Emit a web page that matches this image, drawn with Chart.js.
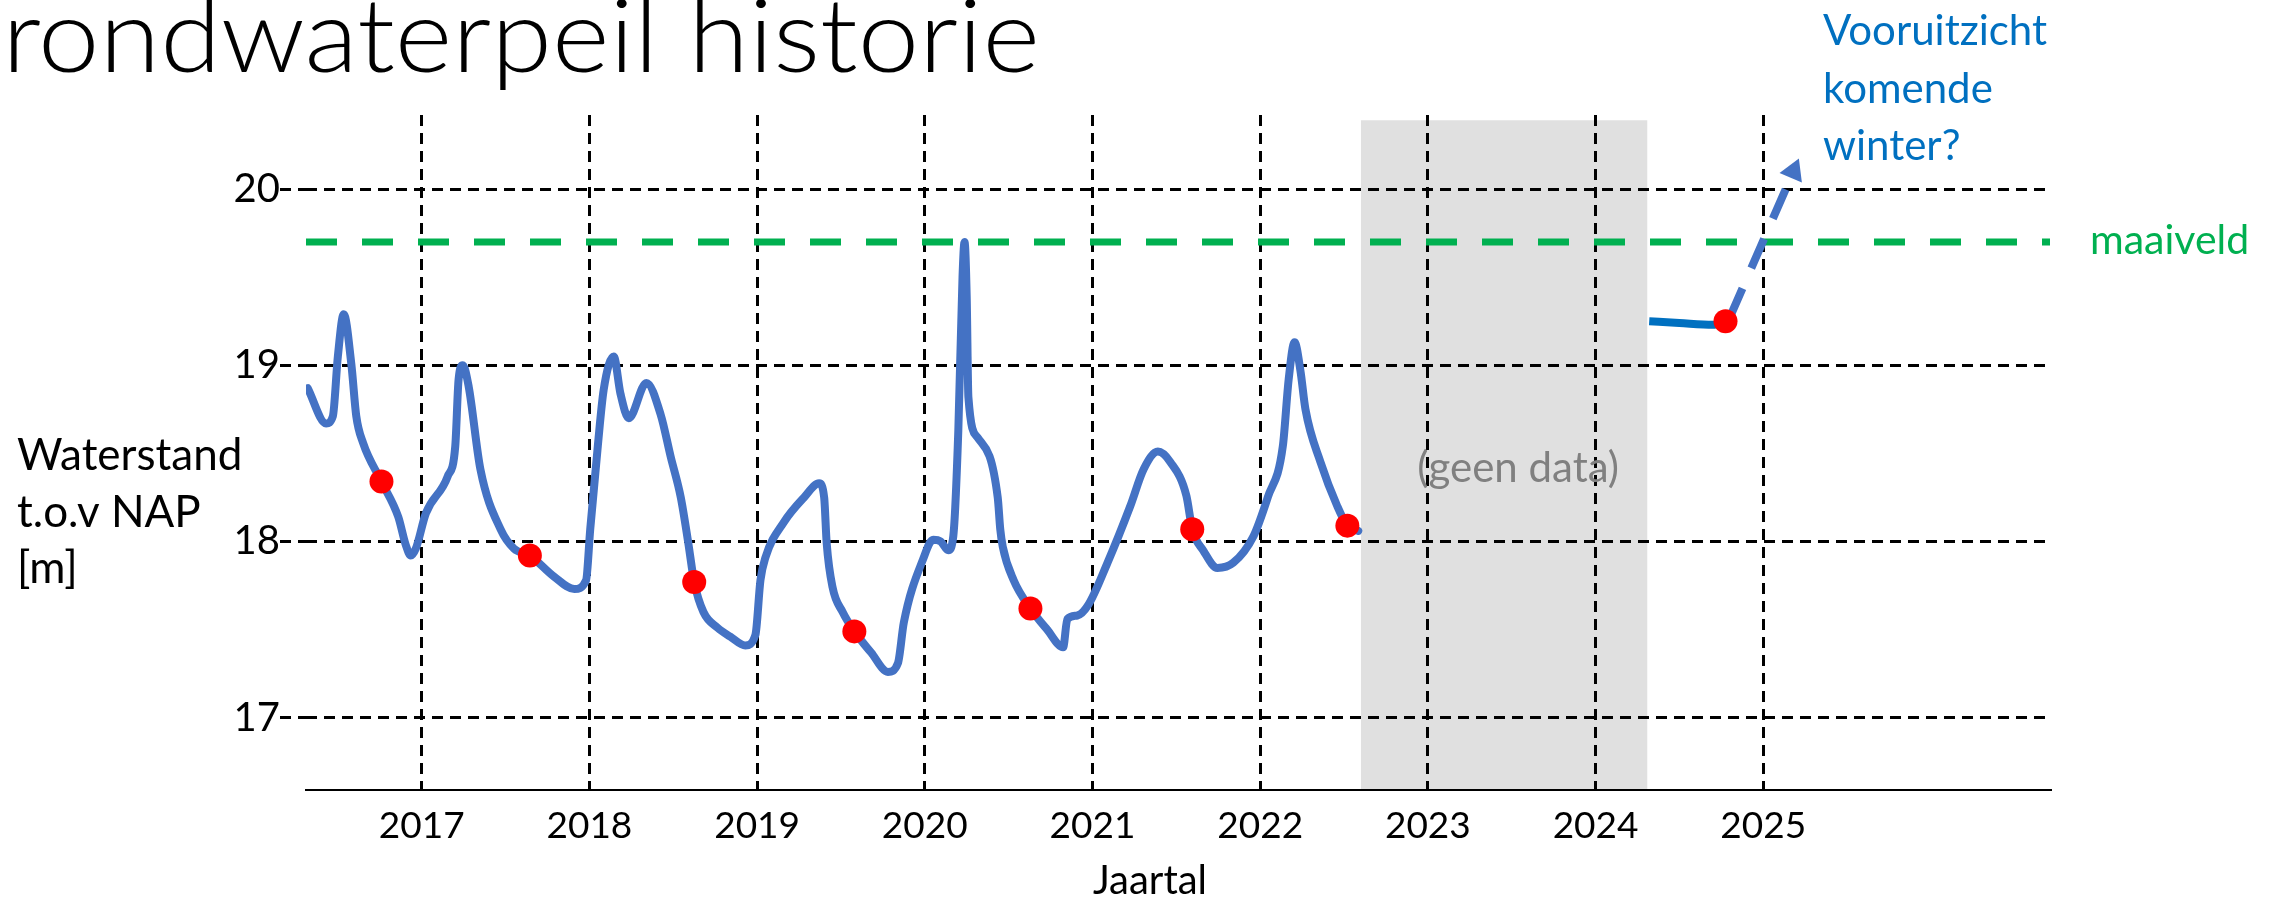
<!DOCTYPE html>
<html>
<head>
<meta charset="utf-8">
<title>Grondwaterpeil historie</title>
<script src="https://cdn.jsdelivr.net/npm/chart.js@4.4.1/dist/chart.umd.min.js"></script>
<style>
  html, body { margin: 0; padding: 0; background: #fff; }
  #wrap { position: relative; width: 2269px; height: 901px; }
</style>
</head>
<body>
<div id="wrap"><canvas id="peilChart"></canvas></div>
<script>
// Grondwaterstand (jaar, m t.o.v. NAP)
const LEVEL_YEARS = [
    2016.32, 2016.43, 2016.47, 2016.50, 2016.535, 2016.58, 2016.61, 2016.65, 2016.76, 2016.86,
    2016.905, 2016.935, 2016.965, 2017.025, 2017.155, 2017.20, 2017.22, 2017.245, 2017.28, 2017.35,
    2017.47, 2017.55, 2017.645, 2017.79, 2017.91, 2017.98, 2018.005, 2018.05, 2018.085, 2018.145,
    2018.185, 2018.235, 2018.34, 2018.425, 2018.485, 2018.545, 2018.59, 2018.625, 2018.68, 2018.765,
    2018.84, 2018.93, 2018.99, 2019.02, 2019.05, 2019.16, 2019.28, 2019.37, 2019.40, 2019.415,
    2019.45, 2019.51, 2019.58, 2019.68, 2019.78, 2019.84, 2019.875, 2019.99, 2020.05, 2020.095,
    2020.14, 2020.17, 2020.20, 2020.225, 2020.237, 2020.25, 2020.26, 2020.315, 2020.435, 2020.45,
    2020.465, 2020.53, 2020.63, 2020.73, 2020.825, 2020.85, 2020.91, 2020.975, 2021.09, 2021.225,
    2021.305, 2021.39, 2021.465, 2021.56, 2021.595, 2021.66, 2021.745, 2021.84, 2021.96, 2022.045,
    2022.135, 2022.17, 2022.205, 2022.24, 2022.27, 2022.36, 2022.46, 2022.52, 2022.585
];
const LEVEL_VALUES = [
    18.87, 18.67, 18.71, 19.05, 19.29, 19.01, 18.71, 18.56, 18.34, 18.14,
    17.98, 17.92, 17.96, 18.16, 18.37, 18.54, 18.92, 19.00, 18.88, 18.41,
    18.07, 17.96, 17.92, 17.80, 17.73, 17.78, 18.07, 18.54, 18.86, 19.05,
    18.84, 18.70, 18.90, 18.72, 18.48, 18.25, 17.99, 17.77, 17.60, 17.51,
    17.46, 17.41, 17.47, 17.78, 17.91, 18.11, 18.25, 18.33, 18.25, 17.99,
    17.74, 17.60, 17.49, 17.37, 17.26, 17.31, 17.54, 17.90, 18.01, 18.00,
    17.95, 18.03, 18.63, 19.50, 19.70, 19.39, 18.82, 18.59, 18.25, 18.07,
    17.97, 17.78, 17.62, 17.50, 17.40, 17.56, 17.58, 17.64, 17.88, 18.20,
    18.41, 18.51, 18.45, 18.26, 18.07, 17.95, 17.85, 17.88, 18.03, 18.25,
    18.54, 18.92, 19.13, 18.97, 18.75, 18.45, 18.20, 18.09, 18.06
];

// Rode meetpunten
const DOT_YEARS = [2016.76, 2017.645, 2018.625, 2019.58, 2020.63, 2021.595, 2022.52, 2024.775];
const DOT_VALUES = [18.34, 17.92, 17.77, 17.49, 17.62, 18.07, 18.09, 19.25];

// Recente meting en vooruitzicht komende winter
const FORECAST_YEARS = [2024.32, 2024.50, 2024.70, 2024.775];
const FORECAST_VALUES = [19.25, 19.24, 19.23, 19.25];
const ARROW_YEARS = [2024.80, 2025.18];
const ARROW_VALUES = [19.27, 20.10];

// Maaiveld en periode zonder data
const MAAIVELD = 19.7;
const GAP_YEARS = [2022.60, 2024.31];
const GAP_TOP = 20.39;

// Assen
const YEAR_TICKS = [2017, 2018, 2019, 2020, 2021, 2022, 2023, 2024, 2025];
const LEVEL_TICKS = [17, 18, 19, 20];
const X_MIN = 2016.31, X_MAX = 2026.71;
const Y_MIN = 16.59, Y_MAX = 20.42;

const toPoints = (xs, ys) => xs.map((x, i) => ({ x: x, y: ys[i] }));

// Teksten van de dia die niet bij een as horen
const slideText = {
    id: 'slideText',
    afterDraw(chart) {
        const { ctx, chartArea, scales: { x, y } } = chart;
        ctx.save();
        ctx.textBaseline = 'alphabetic';
        ctx.textAlign = 'left';

        // titel, de "G" valt links buiten beeld (iets breder getrokken, Calibri Light is smaller)
        ctx.save();
        ctx.font = '300 102px Lato';
        ctx.fillStyle = '#000';
        ctx.scale(1.08, 1);
        const gWidth = ctx.measureText('G').width;
        ctx.fillText('Grondwaterpeil historie', 3 - gWidth, 72);
        ctx.restore();

        // y-as label
        ctx.font = '44px Lato';
        ctx.fillStyle = '#000';
        ['Waterstand', 't.o.v NAP', '[m]'].forEach((line, i) => {
            ctx.fillText(line, 17, 470 + i * 56.5);
        });

        // x-as titel
        ctx.font = '40px Lato';
        ctx.textAlign = 'center';
        ctx.fillText('Jaartal', (chartArea.left + chartArea.right) / 2 - 28, 894);
        ctx.textAlign = 'left';

        // vooruitzicht
        ctx.font = '42px Lato';
        ctx.fillStyle = '#0070C0';
        ['Vooruitzicht', 'komende', 'winter?'].forEach((line, i) => {
            ctx.fillText(line, 1823, 45 + i * 57.5);
        });

        // maaiveld
        ctx.font = '41px Lato';
        ctx.fillStyle = '#00B050';
        ctx.fillText('maaiveld', chartArea.right + 40, y.getPixelForValue(MAAIVELD) + 12);

        // geen data
        ctx.font = '42px Lato';
        ctx.fillStyle = '#808080';
        ctx.textAlign = 'center';
        ctx.fillText('(geen data)', x.getPixelForValue((GAP_YEARS[0] + GAP_YEARS[1]) / 2) + 14, y.getPixelForValue(18.34));

        ctx.restore();
    }
};

function renderChart() {
    const ctx = document.getElementById('peilChart').getContext('2d');

    new Chart(ctx, {
        type: 'line',
        data: {
            datasets: [
                {
                    label: 'geen data',
                    data: GAP_YEARS.map(v => ({ x: v, y: GAP_TOP })),
                    fill: 'start',
                    backgroundColor: 'rgba(0, 0, 0, 0.12)',
                    borderWidth: 0,
                    pointRadius: 0,
                    order: 9
                },
                {
                    label: 'maaiveld',
                    data: [{ x: X_MIN, y: MAAIVELD }, { x: X_MAX, y: MAAIVELD }],
                    borderColor: '#00B050',
                    borderWidth: 7,
                    borderDash: [31, 25],
                    pointRadius: 0,
                    order: 8
                },
                {
                    label: 'waterstand',
                    data: toPoints(LEVEL_YEARS, LEVEL_VALUES),
                    borderColor: '#4472C4',
                    borderWidth: 8,
                    cubicInterpolationMode: 'monotone',
                    borderJoinStyle: 'round',
                    borderCapStyle: 'round',
                    pointRadius: 0,
                    order: 3
                },
                {
                    label: 'recent',
                    data: toPoints(FORECAST_YEARS, FORECAST_VALUES),
                    borderColor: '#0070C0',
                    borderWidth: 8,
                    cubicInterpolationMode: 'monotone',
                    pointRadius: 0,
                    order: 3
                },
                {
                    label: 'vooruitzicht',
                    data: toPoints(ARROW_YEARS, ARROW_VALUES),
                    borderColor: '#4472C4',
                    borderWidth: 8,
                    borderDash: [32, 22],
                    pointStyle: 'triangle',
                    pointRadius: [0, 14],
                    pointRotation: 23,
                    pointBackgroundColor: '#4472C4',
                    pointBorderWidth: 0,
                    order: 2
                },
                {
                    label: 'metingen',
                    data: toPoints(DOT_YEARS, DOT_VALUES),
                    showLine: false,
                    pointRadius: 12,
                    pointBackgroundColor: '#FF0000',
                    pointBorderWidth: 0,
                    order: 1
                }
            ]
        },
        options: {
            responsive: true,
            maintainAspectRatio: false,
            animation: false,
            events: [],
            layout: {
                padding: { left: 0, top: 115, right: 219, bottom: 0 }
            },
            scales: {
                x: {
                    type: 'linear',
                    min: X_MIN,
                    max: X_MAX,
                    afterBuildTicks: scale => { scale.ticks = YEAR_TICKS.map(v => ({ value: v })); },
                    afterFit: scale => { scale.height = 111; },
                    grid: {
                        color: '#000',
                        lineWidth: 3,
                        drawTicks: false
                    },
                    border: {
                        display: true,
                        color: '#000',
                        width: 2,
                        dash: [11, 7]
                    },
                    ticks: {
                        color: '#000',
                        font: { family: 'Lato', size: 37 },
                        padding: 14,
                        maxRotation: 0,
                        autoSkip: false,
                        callback: v => String(v)
                    }
                },
                y: {
                    type: 'linear',
                    min: Y_MIN,
                    max: Y_MAX,
                    afterBuildTicks: scale => { scale.ticks = LEVEL_TICKS.map(v => ({ value: v })); },
                    afterFit: scale => { scale.width = 306; },
                    grid: {
                        color: '#000',
                        lineWidth: 3,
                        drawTicks: true,
                        tickLength: 26,
                        tickColor: '#000',
                        tickWidth: 3,
                        tickBorderDash: [11, 7]
                    },
                    border: {
                        display: false,
                        dash: [11, 7]
                    },
                    ticks: {
                        color: '#000',
                        font: { family: 'Lato', size: 40 },
                        padding: 0,
                        callback: v => String(v)
                    }
                }
            },
            plugins: {
                legend: { display: false },
                tooltip: { enabled: false },
                title: { display: false }
            }
        },
        plugins: [slideText]
    });
}

document.addEventListener('DOMContentLoaded', renderChart);
</script>
</body>
</html>
